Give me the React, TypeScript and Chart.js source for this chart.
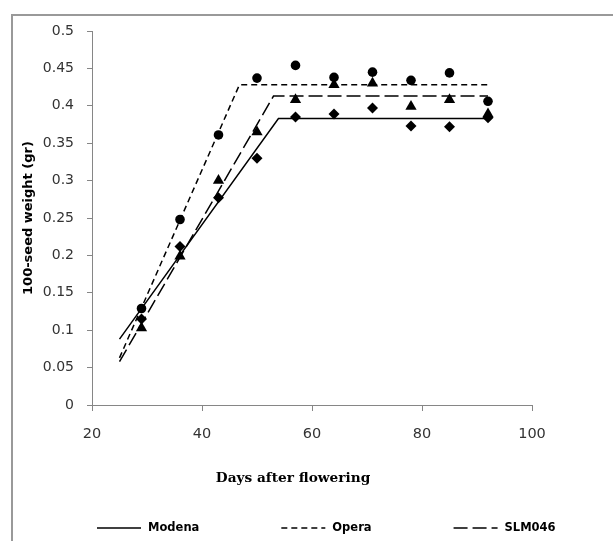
import { useEffect, useRef } from 'react';
import { Chart, registerables } from 'chart.js';

Chart.register(...registerables);

// Observation days (days after flowering)
const days = [29, 36, 43, 50, 57, 64, 71, 78, 85, 92];
// Observed 100-seed weight (gr)
const modenaObs = [0.115, 0.212, 0.277, 0.330, 0.385, 0.389, 0.397, 0.373, 0.372, 0.384];
const operaObs = [0.129, 0.248, 0.361, 0.437, 0.454, 0.438, 0.445, 0.434, 0.444, 0.406];
const slmObs = [0.103, 0.199, 0.300, 0.365, 0.408, 0.428, 0.430, 0.399, 0.408, 0.389];
// Fitted broken-line models (x, y)
const modenaFitX = [25, 53.9, 92];
const modenaFitY = [0.088, 0.383, 0.383];
const operaFitX = [25, 46.8, 92];
const operaFitY = [0.063, 0.428, 0.428];
const slmFitX = [25, 53, 92];
const slmFitY = [0.058, 0.413, 0.413];

const xTicks = [20, 40, 60, 80, 100];

const toPts = (xs: number[], ys: number[]) => xs.map((x, i) => ({ x, y: ys[i] }));

const overlayPlugin = {
  id: 'overlayTexts',
  afterDraw(chart: any) {
    const ctx = chart.ctx as CanvasRenderingContext2D;
    ctx.save();
    ctx.fillStyle = '#000';
    ctx.font = 'bold 13.7px "DejaVu Serif"';
    ctx.textAlign = 'center';
    ctx.textBaseline = 'middle';
    ctx.fillText('Days after flowering', 293, 478);
    const items = chart.data.datasets.filter((d: any) => d.fitLine);
    let x = 97;
    const y = 528;
    const lineLen = 44;
    ctx.font = 'bold 11.5px "DejaVu Sans"';
    ctx.textAlign = 'left';
    for (const d of items) {
      ctx.beginPath();
      ctx.setLineDash(d.borderDash || []);
      ctx.strokeStyle = '#000';
      ctx.lineWidth = 1.5;
      ctx.moveTo(x, y);
      ctx.lineTo(x + lineLen, y);
      ctx.stroke();
      ctx.setLineDash([]);
      ctx.fillText(d.label, x + lineLen + 7, y);
      const w = ctx.measureText(d.label).width;
      x += lineLen + 7 + w + 82;
    }
    ctx.restore();
  },
};

export default function App() {
  const ref = useRef<HTMLCanvasElement | null>(null);
  useEffect(() => {
    if (!ref.current) return;
    const markerBase = {
      showLine: false,
      backgroundColor: '#000',
      borderColor: '#000',
      borderWidth: 0,
    };
    const lineBase = {
      showLine: true,
      fitLine: true,
      borderColor: '#000',
      borderWidth: 1.5,
      pointRadius: 0,
      pointHoverRadius: 0,
      fill: false,
      tension: 0,
    };
    const chart = new Chart(ref.current, {
      type: 'scatter',
      data: {
        datasets: [
          { ...lineBase, label: 'Modena', data: toPts(modenaFitX, modenaFitY), borderDash: [] } as any,
          { ...lineBase, label: 'Opera', data: toPts(operaFitX, operaFitY), borderDash: [6, 4] } as any,
          { ...lineBase, label: 'SLM046', data: toPts(slmFitX, slmFitY), borderDash: [14, 5] } as any,
          { ...markerBase, label: 'Modena obs', data: toPts(days, modenaObs), pointStyle: 'rectRot', pointRadius: 5.5 } as any,
          { ...markerBase, label: 'Opera obs', data: toPts(days, operaObs), pointStyle: 'circle', pointRadius: 4.8 } as any,
          { ...markerBase, label: 'SLM046 obs', data: toPts(days, slmObs), pointStyle: 'triangle', pointRadius: 6.5 } as any,
        ],
      },
      options: {
        animation: false,
        responsive: false,
        layout: { padding: { left: 0, right: 81, top: 31, bottom: 46 } },
        plugins: {
          legend: { display: false },
          tooltip: { enabled: false },
        },
        scales: {
          x: {
            type: 'linear',
            min: 20,
            max: 100,
            afterBuildTicks: (s: any) => {
              s.ticks = xTicks.map((v) => ({ value: v }));
            },
            afterFit: (s: any) => {
              s.height = 90;
            },
            ticks: {
              font: { family: 'DejaVu Sans', size: 14.5 },
              color: '#333',
              padding: 15,
            },
            grid: { drawOnChartArea: false, drawTicks: true, tickLength: 6, color: '#868686' },
            border: { color: '#868686', width: 1 },
          },
          y: {
            type: 'linear',
            min: 0,
            max: 0.5,
            afterFit: (s: any) => {
              s.width = 92;
            },
            ticks: {
              stepSize: 0.05,
              font: { family: 'DejaVu Sans', size: 14 },
              color: '#333',
              padding: 13,
              callback: (v: any) => String(Number(Number(v).toFixed(2))),
            },
            grid: { drawOnChartArea: false, drawTicks: true, tickLength: 5, color: '#868686' },
            border: { color: '#868686', width: 1 },
            title: {
              display: true,
              text: '100-seed weight (gr)',
              font: { family: 'DejaVu Sans', size: 13, weight: 'bold' },
              color: '#000',
              padding: { top: 20.5, bottom: 0 },
            },
          },
        },
      },
      plugins: [overlayPlugin],
    });
    return () => chart.destroy();
  }, []);

  return (
    <div style={{ position: 'fixed', left: 0, top: 0, width: 613, height: 541, overflow: 'hidden', background: '#fff' }}>
      <div
        style={{
          position: 'absolute',
          left: 11,
          top: 14,
          width: 700,
          height: 700,
          borderLeft: '2px solid #999',
          borderTop: '2px solid #999',
          boxSizing: 'border-box',
        }}
      />
      <canvas ref={ref} width={613} height={541} style={{ position: 'absolute', left: 0, top: 0 }} />
    </div>
  );
}
